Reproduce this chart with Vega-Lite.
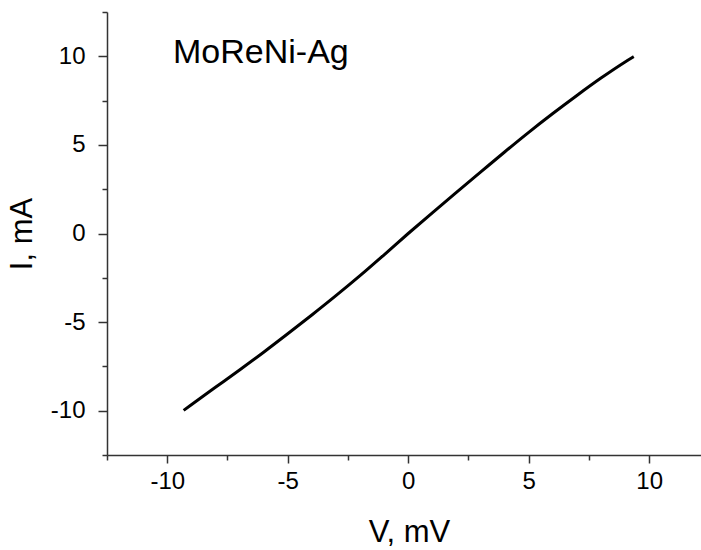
{
  "$schema": "https://vega.github.io/schema/vega-lite/v6.json",
  "autosize": "none",
  "width": 594,
  "height": 443,
  "padding": {"left": 107, "top": 12, "right": 0, "bottom": 95},
  "background": "white",
  "config": {"view": {"stroke": null}, "font": "Liberation Sans"},
  "layer": [
    {
      "data": {"values": [
        {"V": -9.32, "I": -9.98},
        {"V": -9, "I": -9.66},
        {"V": -8, "I": -8.68},
        {"V": -7, "I": -7.7},
        {"V": -6, "I": -6.7},
        {"V": -5, "I": -5.66},
        {"V": -4, "I": -4.6},
        {"V": -3, "I": -3.51},
        {"V": -2, "I": -2.38},
        {"V": -1, "I": -1.2},
        {"V": 0, "I": 0.0},
        {"V": 1, "I": 1.17},
        {"V": 2, "I": 2.32},
        {"V": 3, "I": 3.46},
        {"V": 4, "I": 4.6},
        {"V": 5, "I": 5.71},
        {"V": 6, "I": 6.77},
        {"V": 7, "I": 7.79},
        {"V": 8, "I": 8.77},
        {"V": 9, "I": 9.68},
        {"V": 9.36, "I": 9.98}
      ]},
      "mark": {"type": "line", "color": "black", "strokeWidth": 3, "interpolate": "monotone", "clip": true},
      "encoding": {
        "x": {
          "field": "V", "type": "quantitative",
          "scale": {"domain": [-12.5, 12.15], "nice": false, "zero": false},
          "axis": {
            "title": "V, mV",
            "titleX": 302,
            "values": [-12.5, -10, -7.5, -5, -2.5, 0, 2.5, 5, 7.5, 10],
            "labelExpr": "datum.value % 5 === 0 ? replace(datum.label, '\u2212', '-') : ''",
            "grid": false,
            "domainColor": "#333333", "domainWidth": 1.5,
            "tickColor": "#333333", "tickWidth": 1.5,
            "tickSize": {"condition": {"test": "datum.value % 5 === 0", "value": 8}, "value": 5},
            "labelFontSize": 24, "labelColor": "black", "labelPadding": 6,
            "titleFontSize": 31, "titleFontWeight": "normal", "titleColor": "black", "titlePadding": 24
          }
        },
        "y": {
          "field": "I", "type": "quantitative",
          "scale": {"domain": [-12.5, 12.5], "nice": false, "zero": false},
          "axis": {
            "title": "I, mA",
            "values": [-12.5, -10, -7.5, -5, -2.5, 0, 2.5, 5, 7.5, 10, 12.5],
            "labelExpr": "datum.value % 5 === 0 ? replace(datum.label, '\u2212', '-') : ''",
            "grid": false,
            "domainColor": "#333333", "domainWidth": 1.5,
            "tickColor": "#333333", "tickWidth": 1.5,
            "tickSize": {"condition": {"test": "datum.value % 5 === 0", "value": 9}, "value": 5},
            "labelFontSize": 24, "labelColor": "black", "labelPadding": 13,
            "titleFontSize": 31, "titleFontWeight": "normal", "titleColor": "black", "titlePadding": 12
          }
        }
      }
    },
    {
      "data": {"values": [{"V": -9.76, "I": 9.6, "label": "MoReNi-Ag"}]},
      "mark": {"type": "text", "align": "left", "baseline": "alphabetic", "fontSize": 34, "color": "black"},
      "encoding": {
        "x": {"field": "V", "type": "quantitative"},
        "y": {"field": "I", "type": "quantitative"},
        "text": {"field": "label"}
      }
    }
  ]
}
